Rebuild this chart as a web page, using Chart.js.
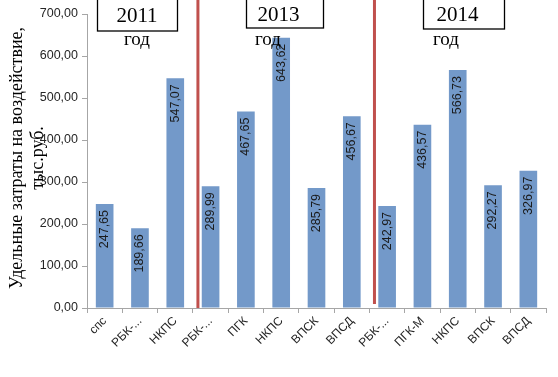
<!DOCTYPE html>
<html>
<head>
<meta charset="utf-8">
<script src="https://cdn.jsdelivr.net/npm/chart.js@4/dist/chart.umd.min.js"></script>
<style>
  html, body { margin: 0; padding: 0; background: #fff; }
</style>
</head>
<body>
<canvas id="barChart" width="558" height="377"></canvas>
<script>
// categories and values
const categories = ['спс', 'РБК-...', 'НКПС', 'РБК-...', 'ПГК', 'НКПС', 'ВПСК', 'ВПСД', 'РБК-...', 'ПГК-М', 'НКПС', 'ВПСК', 'ВПСД'];
const costs = [247.65, 189.66, 547.07, 289.99, 467.65, 643.62, 285.79, 456.67, 242.97, 436.57, 566.73, 292.27, 326.97];
const yearLabels = ['2011', '2013', '2014'];
const titleLines = ['Удельные затраты на воздействие,', 'тыс.руб.'];

const fmt = v => v.toFixed(2).replace('.', ',');

// value labels inside bars, rotated
const barLabels = {
  id: 'barLabels',
  afterDatasetsDraw(chart) {
    const ctx = chart.ctx;
    const meta = chart.getDatasetMeta(0);
    ctx.save();
    ctx.font = '12.5px "Liberation Sans"';
    ctx.fillStyle = '#1a1a1a';
    meta.data.forEach((bar, i) => {
      ctx.save();
      ctx.translate(bar.x, bar.y + 6);
      ctx.rotate(-Math.PI / 2);
      ctx.textAlign = 'right';
      ctx.textBaseline = 'middle';
      ctx.fillText(fmt(costs[i]), 0, 0);
      ctx.restore();
    });
    ctx.restore();
  }
};

// red separators, year boxes and the axis title
const yearMarks = {
  id: 'yearMarks',
  afterDraw(chart) {
    const ctx = chart.ctx;
    const x = chart.scales.x;
    const area = chart.chartArea;
    const step = x.getPixelForValue(1) - x.getPixelForValue(0);
    ctx.save();
    ctx.strokeStyle = '#c0504d';
    ctx.lineWidth = 3;
    [3, 8].forEach((idx, k) => {
      const px = x.getPixelForValue(idx) - step / 2 + 5;
      ctx.beginPath();
      ctx.moveTo(px, 0);
      ctx.lineTo(px, k === 0 ? area.bottom : area.bottom - 4);
      ctx.stroke();
    });
    const boxes = [[97, 80, 31], [246, 77, 28], [423, 81, 29]];
    const god = [137, 268, 446];
    ctx.lineWidth = 1.3;
    ctx.strokeStyle = '#000';
    ctx.textAlign = 'center';
    ctx.textBaseline = 'middle';
    boxes.forEach((b, i) => {
      ctx.fillStyle = '#fff';
      ctx.fillRect(b[0], -1, b[1], b[2] + 1);
      ctx.strokeRect(b[0] + 0.5, -1, b[1], b[2] + 1);
      ctx.fillStyle = '#000';
      ctx.font = '21px "Liberation Serif"';
      ctx.fillText(yearLabels[i], b[0] + b[1] / 2 - (i === 0 ? 0 : 6), b[2] / 2 + 1);
      ctx.font = '19px "Liberation Serif"';
      ctx.fillText('год', god[i], 40);
    });
    // axis title
    ctx.font = '18px "Liberation Serif"';
    ctx.fillStyle = '#000';
    [[17, titleLines[0]], [38, titleLines[1]]].forEach(([tx, t]) => {
      ctx.save();
      ctx.translate(tx, 158);
      ctx.rotate(-Math.PI / 2);
      ctx.fillText(t, 0, 0);
      ctx.restore();
    });
    ctx.restore();
  }
};

new Chart(document.getElementById('barChart'), {
  type: 'bar',
  data: {
    labels: categories,
    datasets: [{
      data: costs,
      backgroundColor: '#7399c9',
      borderWidth: 0,
      barPercentage: 0.5,
      categoryPercentage: 1
    }]
  },
  options: {
    responsive: false,
    animation: false,
    devicePixelRatio: 1,
    layout: { padding: { top: 14, right: 12, left: 0, bottom: 0 } },
    plugins: {
      legend: { display: false },
      tooltip: { enabled: false }
    },
    scales: {
      x: {
        grid: { display: true, drawOnChartArea: false, offset: true, tickLength: 5, color: '#a6a6a6' },
        border: { color: '#a6a6a6' },
        ticks: {
          maxRotation: 45, minRotation: 45,
          font: { family: 'Liberation Sans', size: 12 },
          color: '#262626',
          padding: 1
        },
        afterFit: s => { s.height = 69; }
      },
      y: {
        min: 0, max: 700,
        grid: { display: true, drawOnChartArea: false, tickLength: 5, color: '#a6a6a6' },
        border: { color: '#a6a6a6' },
        ticks: {
          stepSize: 100,
          font: { family: 'Liberation Sans', size: 12.5 },
          color: '#262626',
          padding: 4,
          callback: v => fmt(v)
        },
        afterFit: s => { s.width = 87; }
      }
    }
  },
  plugins: [barLabels, yearMarks]
});
</script>
</body>
</html>
